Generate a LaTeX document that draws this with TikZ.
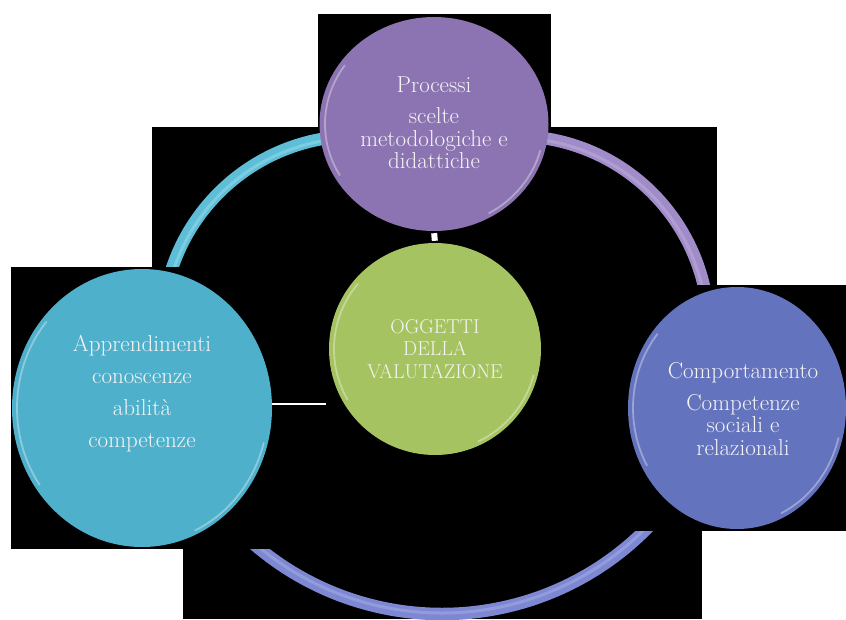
\documentclass[tikz,border=0pt]{standalone}
\usetikzlibrary{shapes.geometric,calc}
\definecolor{cyanC}{HTML}{4FB0CC}
\definecolor{cyanA}{HTML}{5FBED7}
\definecolor{cyanH}{HTML}{B4EAF5}
\definecolor{purpC}{HTML}{8C74B2}
\definecolor{purpA}{HTML}{A08CC8}
\definecolor{purpH}{HTML}{CFC2E8}
\definecolor{greenC}{HTML}{A5C360}
\definecolor{blueC}{HTML}{6473BE}
\definecolor{blueA}{HTML}{7D87D2}
\definecolor{blueH}{HTML}{BCC4F2}
\definecolor{txtC}{HTML}{F4F4F4}
\tikzset{
  blk/.style={fill=black,draw=none},
  bubble/.style={ellipse,draw=none,inner sep=0pt},
  ringarc/.style={line width=12.5pt,line cap=butt},
  ringhl/.style={line width=3pt,opacity=0.35,line cap=butt},
  glint/.style={draw=white,opacity=0.35,line width=1.8pt,line cap=round},
  conn/.style={draw=white,line width=2.6pt},
  txt/.style={text=txtC,align=center,font=\fontsize{23}{22.5}\selectfont}
}
\begin{document}
\begin{tikzpicture}[x=1pt,y=-1pt]
\useasboundingbox (0,0) rectangle (846,619);
\fill[white] (0,0) rectangle (846,619);
% black boxes behind the pieces
\fill[blk] (318,14) rectangle (551,131);
\fill[blk] (152,127) rectangle (717,525);
\fill[blk] (183,400) rectangle (702,619);
% ring arcs
\coordinate (cc) at (356,330);
\coordinate (pc) at (515,330);
\coordinate (bc) at (442,326);
\draw[ringarc,cyanA] (cc) ++(185:194) arc[start angle=185,end angle=275,radius=194];
\draw[ringhl,cyanH] (cc) ++(185:192) arc[start angle=185,end angle=275,radius=192];
\draw[ringarc,purpA] (pc) ++(265:194) arc[start angle=265,end angle=360,radius=194];
\draw[ringhl,purpH] (pc) ++(265:192) arc[start angle=265,end angle=360,radius=192];
\draw[ringarc,blueA] (bc) ++(30:288) arc[start angle=30,end angle=140,radius=288];
\draw[ringhl,blueH] (bc) ++(30:287) arc[start angle=30,end angle=140,radius=287];
% black boxes of the side circles
\fill[blk] (11,267) rectangle (300,549);
\fill[blk] (620,285) rectangle (846,531);
% circles
\node[bubble,fill=purpC,minimum width=229pt,minimum height=214pt] (T) at (434,124) {};
\node[bubble,fill=greenC,minimum width=212pt,minimum height=212pt] (G) at (435,349) {};
\node[bubble,fill=cyanC,minimum width=260pt,minimum height=278pt] (L) at (142,408) {};
\node[bubble,fill=blueC,minimum width=218pt,minimum height=242pt] (R) at (737,408) {};
% connectors
\coordinate (lw) at (326,404);
\draw[conn] (L.east |- lw) -- (lw);
\draw[draw=white,line width=6pt,shorten >=2pt,shorten <=2pt] (T.south) -- (G.north);
% glints
\begin{scope}[shift={(T.center)}]
\draw[glint] (150:109 and 102) arc[start angle=150,end angle=215,x radius=109,y radius=102];
\draw[glint] (15:110 and 103) arc[start angle=15,end angle=60,x radius=110,y radius=103];
\end{scope}
\begin{scope}[shift={(G.center)}]
\draw[glint] (150:101 and 101) arc[start angle=150,end angle=220,x radius=101,y radius=101];
\draw[glint] (15:102 and 102) arc[start angle=15,end angle=65,x radius=102,y radius=102];
\end{scope}
\begin{scope}[shift={(L.center)}]
\draw[glint] (145:125 and 134) arc[start angle=145,end angle=220,x radius=125,y radius=134];
\draw[glint] (15:126 and 135) arc[start angle=15,end angle=65,x radius=126,y radius=135];
\end{scope}
\begin{scope}[shift={(R.center)}]
\draw[glint] (150:104 and 115) arc[start angle=150,end angle=220,x radius=104,y radius=115];
\draw[glint] (15:105 and 116) arc[start angle=15,end angle=65,x radius=105,y radius=116];
\end{scope}
% texts
\node[txt] (Tt) at (434,123) {Processi\\[8.5pt]scelte\\metodologiche e\\didattiche};
\node[txt,font=\fontsize{20}{22.5}\selectfont] (Gt) at (435,349) {OGGETTI\\DELLA\\VALUTAZIONE};
\node[txt] (Lt) at (142,394) {Apprendimenti\\[9.5pt]conoscenze\\[9.5pt]abilità\\[9.5pt]competenze};
\node[txt] (Rt) at (743,409) {Comportamento\\[9.5pt]Competenze\\sociali e\\relazionali};
\end{tikzpicture}
\end{document}
